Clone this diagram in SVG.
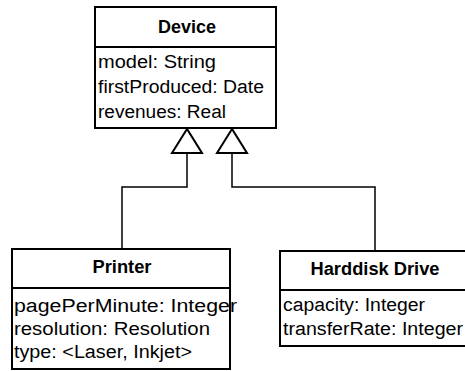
<svg xmlns="http://www.w3.org/2000/svg" width="465" height="371" viewBox="0 0 465 371">
<style>
.box{fill:#fff;stroke:#000;stroke-width:2}
.div{stroke:#000;stroke-width:2}
.t{font-family:"Liberation Sans",Arial,sans-serif;font-size:18px;fill:#000}
.b{font-weight:bold;text-anchor:middle}
.con{fill:none;stroke:#000;stroke-width:1.5}
.tri{fill:#fff;stroke:#000;stroke-width:2;stroke-linejoin:miter}
</style>
<rect width="465" height="371" fill="#fff"/>
<g id="connectors">
<path class="con" d="M187 153 V187 H122 V249"/>
<path class="con" d="M232 153 V187 H375 V251"/>
<polygon class="tri" points="187,129 172,153 202,153"/>
<polygon class="tri" points="232,129 217,153 247,153"/>
</g>
<g id="device">
<rect class="box" x="95" y="7" width="181" height="121"/>
<line class="div" x1="95" y1="47" x2="276" y2="47"/>
<text class="t b" x="187" y="33" textLength="58" lengthAdjust="spacingAndGlyphs">Device</text>
<text class="t" x="98" y="68" textLength="118" lengthAdjust="spacingAndGlyphs">model: String</text>
<text class="t" x="98" y="93" textLength="166" lengthAdjust="spacingAndGlyphs">firstProduced: Date</text>
<text class="t" x="98" y="118" textLength="128" lengthAdjust="spacingAndGlyphs">revenues: Real</text>
</g>
<g id="printer">
<rect class="box" x="12" y="249" width="218" height="120"/>
<line class="div" x1="12" y1="288" x2="230" y2="288"/>
<text class="t b" x="122" y="273" textLength="59" lengthAdjust="spacingAndGlyphs">Printer</text>
<text class="t" x="14" y="312" textLength="223" lengthAdjust="spacingAndGlyphs">pagePerMinute: Integer</text>
<text class="t" x="14" y="335" textLength="196" lengthAdjust="spacingAndGlyphs">resolution: Resolution</text>
<text class="t" x="14" y="358" textLength="178" lengthAdjust="spacingAndGlyphs">type: &lt;Laser, Inkjet&gt;</text>
</g>
<g id="harddisk">
<rect class="box" x="280" y="251" width="192" height="95"/>
<line class="div" x1="280" y1="290" x2="472" y2="290"/>
<text class="t b" x="375" y="275" textLength="129" lengthAdjust="spacingAndGlyphs">Harddisk Drive</text>
<text class="t" x="283" y="311" textLength="142" lengthAdjust="spacingAndGlyphs">capacity: Integer</text>
<text class="t" x="283" y="335" textLength="180" lengthAdjust="spacingAndGlyphs">transferRate: Integer</text>
</g>
</svg>
